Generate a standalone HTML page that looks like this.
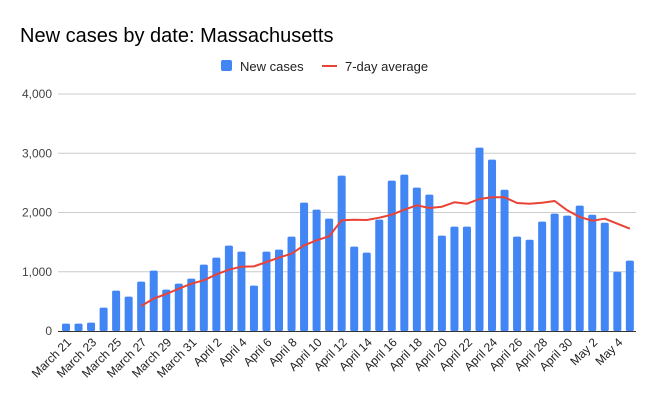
<!DOCTYPE html>
<html><head><meta charset="utf-8"><style>
html,body{margin:0;padding:0;background:#fff;}
svg{display:block;font-family:"Liberation Sans",Arial,sans-serif;}
</style></head><body>
<svg id="c" width="656" height="406" xmlns="http://www.w3.org/2000/svg">
<rect width="656" height="406" fill="#fff"/>
<text x="20" y="42" font-size="20" fill="#000">New cases by date: Massachusetts</text>
<rect x="221" y="60" width="11" height="11" rx="2" fill="#4285f4"/>
<text x="240" y="71" font-size="13" fill="#222">New cases</text>
<line x1="322" y1="66" x2="337" y2="66" stroke="#ea4335" stroke-width="2"/>
<text x="345" y="71" font-size="13" fill="#222">7-day average</text>
<g id="g"></g>
</svg>
<script>
var g=document.getElementById('g'),ns="http://www.w3.org/2000/svg";
function el(t,a,txt){var e=document.createElementNS(ns,t);for(var k in a)e.setAttribute(k,a[k]);if(txt)e.textContent=txt;g.appendChild(e);return e;}
var base=331,sc=0.05925;
var labs=["0","1,000","2,000","3,000","4,000"];
for(var i=0;i<5;i++){var y=base-i*1000*sc;
 if(i>0)el('line',{x1:58,x2:636,y1:y,y2:y,stroke:'#ccc','stroke-width':1});
 el('text',{x:52,y:y+4,'font-size':12,fill:'#444','text-anchor':'end'},labs[i]);}
var v=[124,124,141,394,681,580,833,1018,698,799,883,1120,1238,1440,1339,765,1339,1373,1592,2166,2048,1896,2622,1423,1322,1879,2537,2639,2419,2301,1609,1761,1761,3094,2892,2385,1592,1541,1845,1980,1947,2115,1963,1828,1001,1187];
var x0=66,dx=12.53;
v.forEach(function(d,i){var x=x0+i*dx,h=d*sc;el('rect',{x:x-4,y:base-h,width:8,height:h,rx:1.5,fill:'#4285f4'});});
el('line',{x1:58,x2:636,y1:base+0.5,y2:base+0.5,stroke:'#333','stroke-width':1});
var a=[422,546,624,714,799,855,956,1035,1086,1091,1165,1238,1305,1446,1530,1598,1868,1879,1873,1913,1963,2048,2121,2076,2098,2172,2149,2228,2256,2256,2160,2149,2166,2194,2037,1924,1862,1896,1811,1727];
var p=a.map(function(d,i){return (x0+(i+6)*dx).toFixed(1)+','+(base-d*sc).toFixed(1);}).join(' ');
el('polyline',{points:p,fill:'none',stroke:'#ea4335','stroke-width':2,'stroke-linejoin':'round'});
var names=[];
for(var i=21;i<=31;i++)names.push('March '+i);
for(var i=1;i<=30;i++)names.push('April '+i);
for(var i=1;i<=5;i++)names.push('May '+i);
for(var i=0;i<46;i+=2){var x=x0+i*dx+6,y=343;
 el('text',{x:x,y:y,'font-size':12,fill:'#222','text-anchor':'end',transform:'rotate(-45 '+x+' '+y+')'},names[i]);}
</script>
</body></html>
